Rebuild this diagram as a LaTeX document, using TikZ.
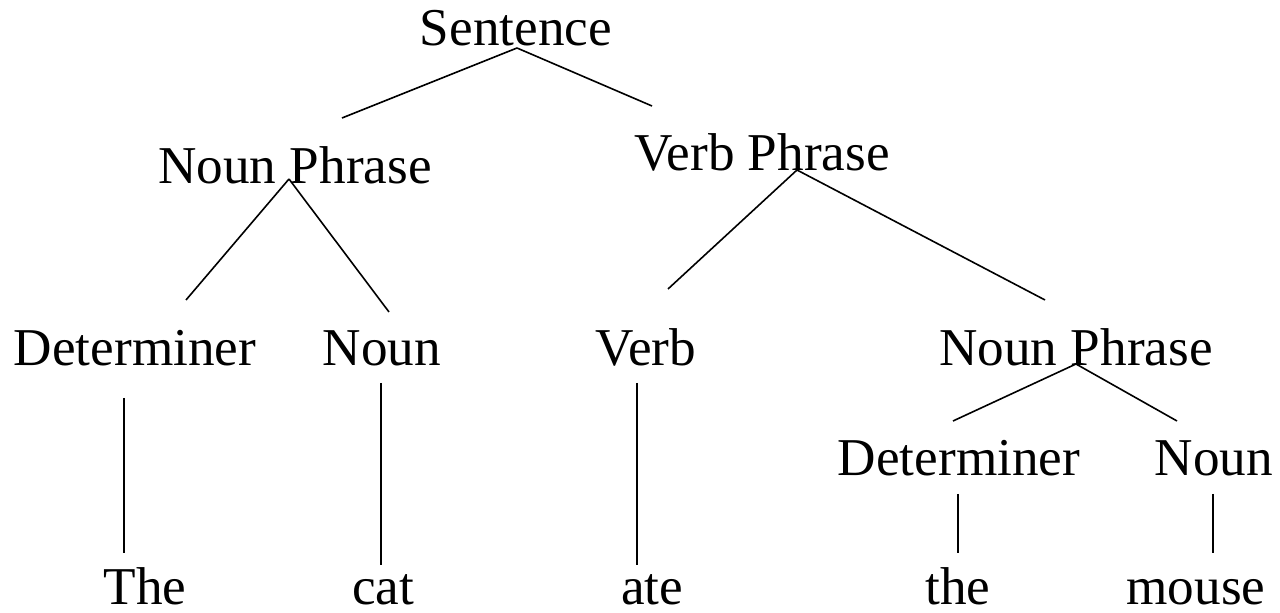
\documentclass[tikz,border=0pt]{standalone}
\usepackage{fontspec}
\setmainfont{Liberation Serif}
\begin{document}
\begin{tikzpicture}[x=0.5pt,y=-0.5pt,
  lbl/.style={anchor=base,inner sep=0pt,font=\fontsize{26.6}{32}\selectfont},
  edge/.style={draw=black,line width=0.8pt}]
\useasboundingbox (0,0) rectangle (1280,613);
\node[lbl] (s) at (516,46) {Sentence};
\node[lbl] (np1) at (295,184) {Noun Phrase};
\node[lbl] (vp) at (762,171) {Verb Phrase};
\node[lbl] (det1) at (135,366) {Determiner};
\node[lbl] (n1) at (382,366) {Noun};
\node[lbl] (v) at (646,366) {Verb};
\node[lbl] (np2) at (1076,366) {Noun Phrase};
\node[lbl] (det2) at (959,476) {Determiner};
\node[lbl] (n2) at (1214,476) {Noun};
\node[lbl] (w1) at (145,605) {The};
\node[lbl] (w2) at (383,605) {cat};
\node[lbl] (w3) at (652,605) {ate};
\node[lbl] (w4) at (958,605) {the};
\node[lbl] (w5) at (1196,605) {mouse};
% connector end points
\coordinate (s-b) at (517,48);
\coordinate (np1-t) at (342,118);
\coordinate (vp-t) at (652,106);
\coordinate (np1-b) at (289,179);
\coordinate (det1-t) at (186,300);
\coordinate (n1-t) at (389,312);
\coordinate (vp-b) at (797,170);
\coordinate (v-t) at (668,289);
\coordinate (np2-t) at (1045,300);
\coordinate (np2-b) at (1076,364);
\coordinate (det2-t) at (953,421);
\coordinate (n2-t) at (1177,421);
\coordinate (det1-b) at (124,398);
\coordinate (w1-t) at (124,553);
\coordinate (n1-b) at (381,383);
\coordinate (w2-t) at (381,565);
\coordinate (v-b) at (637,383);
\coordinate (w3-t) at (637,565);
\coordinate (det2-b) at (958,494);
\coordinate (w4-t) at (958,553);
\coordinate (n2-b) at (1213,494);
\coordinate (w5-t) at (1213,553);
\draw[edge] (s-b) -- (np1-t);
\draw[edge] (s-b) -- (vp-t);
\draw[edge] (np1-b) -- (det1-t);
\draw[edge] (np1-b) -- (n1-t);
\draw[edge] (vp-b) -- (v-t);
\draw[edge] (vp-b) -- (np2-t);
\draw[edge] (np2-b) -- (det2-t);
\draw[edge] (np2-b) -- (n2-t);
\draw[edge] (det1-b) -- (w1-t);
\draw[edge] (n1-b) -- (w2-t);
\draw[edge] (v-b) -- (w3-t);
\draw[edge] (det2-b) -- (w4-t);
\draw[edge] (n2-b) -- (w5-t);
\end{tikzpicture}
\end{document}
